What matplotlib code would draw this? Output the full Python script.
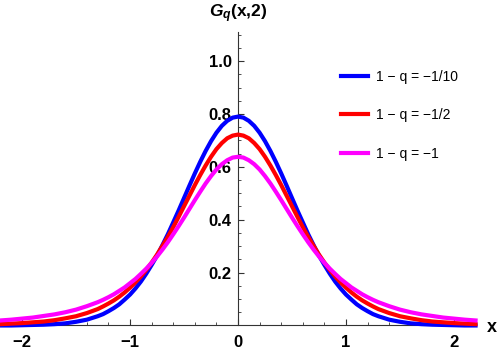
import numpy as np
import matplotlib.pyplot as plt
from matplotlib.ticker import MultipleLocator

plt.rcParams['font.family'] = 'Liberation Sans'
plt.rcParams['mathtext.fontset'] = 'custom'
plt.rcParams['mathtext.it'] = 'Liberation Sans:italic:bold'
plt.rcParams['mathtext.rm'] = 'Liberation Sans:bold'

x = [-2.2, -2.1, -2.0, -1.9, -1.8, -1.7, -1.6, -1.5, -1.4, -1.3,
     -1.25, -1.2, -1.15, -1.1, -1.05, -1.0, -0.95, -0.9, -0.85, -0.8, -0.75, -0.7, -0.65,
     -0.6, -0.55, -0.5, -0.45, -0.4, -0.35, -0.3, -0.25, -0.2, -0.15, -0.1, -0.05, 0.0,
     0.05, 0.1, 0.15, 0.2, 0.25, 0.3, 0.35, 0.4, 0.45, 0.5, 0.55, 0.6, 0.65, 0.7, 0.75,
     0.8, 0.85, 0.9, 0.95, 1.0, 1.05, 1.1, 1.15, 1.2, 1.25,
     1.3, 1.4, 1.5, 1.6, 1.7, 1.8, 1.9, 2.0, 2.1, 2.2]

g_blue = [0.000, 0.000, 0.001, 0.002, 0.003, 0.005, 0.008, 0.014, 0.022, 0.035,
          0.043, 0.054, 0.066, 0.080, 0.098, 0.117, 0.140, 0.166, 0.196, 0.229, 0.264, 0.304, 0.345,
          0.390, 0.435, 0.482, 0.529, 0.575, 0.619, 0.660, 0.697, 0.729, 0.755, 0.774, 0.786, 0.790,
          0.786, 0.774, 0.755, 0.729, 0.697, 0.660, 0.619, 0.575, 0.529, 0.482, 0.435, 0.390, 0.345,
          0.304, 0.264, 0.229, 0.196, 0.166, 0.140, 0.117, 0.098, 0.080, 0.066, 0.054, 0.043,
          0.035, 0.022, 0.014, 0.008, 0.005, 0.003, 0.002, 0.001, 0.000, 0.000]
g_red = [0.005, 0.007, 0.009, 0.012, 0.015, 0.020, 0.027, 0.035, 0.047, 0.062,
         0.072, 0.083, 0.095, 0.109, 0.125, 0.143, 0.163, 0.185, 0.210, 0.238, 0.268, 0.301, 0.335,
         0.372, 0.411, 0.451, 0.491, 0.531, 0.569, 0.605, 0.638, 0.667, 0.690, 0.708, 0.718, 0.722,
         0.718, 0.708, 0.690, 0.667, 0.638, 0.605, 0.569, 0.531, 0.491, 0.451, 0.411, 0.372, 0.335,
         0.301, 0.268, 0.238, 0.210, 0.185, 0.163, 0.143, 0.125, 0.109, 0.095, 0.083, 0.072,
         0.062, 0.047, 0.035, 0.027, 0.020, 0.015, 0.012, 0.009, 0.007, 0.005]
g_mag = [0.019, 0.022, 0.026, 0.030, 0.036, 0.042, 0.050, 0.060, 0.073, 0.088,
         0.097, 0.107, 0.118, 0.131, 0.144, 0.160, 0.176, 0.195, 0.215, 0.237, 0.261, 0.287, 0.315,
         0.345, 0.376, 0.408, 0.441, 0.474, 0.506, 0.537, 0.565, 0.590, 0.610, 0.625, 0.635, 0.638,
         0.635, 0.625, 0.610, 0.590, 0.565, 0.537, 0.506, 0.474, 0.441, 0.408, 0.376, 0.345, 0.315,
         0.287, 0.261, 0.237, 0.215, 0.195, 0.176, 0.160, 0.144, 0.131, 0.118, 0.107, 0.097,
         0.088, 0.073, 0.060, 0.050, 0.042, 0.036, 0.030, 0.026, 0.022, 0.019]

labels = ['1 \u2212 q = \u22121/10', '1 \u2212 q = \u22121/2', '1 \u2212 q = \u22121']

fig = plt.figure(figsize=(4.99, 3.51), dpi=100)
ax = fig.add_axes([0.001, 0.0727, 0.952, 0.8362])

ax.plot(x, g_blue, color='#0000ff', lw=3, label=labels[0], clip_on=False, zorder=3,
        solid_joinstyle='round')
ax.plot(x, g_red, color='#ff0000', lw=3, label=labels[1], clip_on=False, zorder=3,
        solid_joinstyle='round')
ax.plot(x, g_mag, color='#ff00ff', lw=3, label=labels[2], clip_on=False, zorder=3,
        solid_joinstyle='round')

ax.set_xlim(-2.2, 2.2)
ax.set_ylim(0, 1.11)

ax.spines['left'].set_position(('data', 0))
ax.spines['bottom'].set_position(('data', 0))
ax.spines['top'].set_visible(False)
ax.spines['right'].set_visible(False)
for s in ['left', 'bottom']:
    ax.spines[s].set_color('#333333')
    ax.spines[s].set_linewidth(0.8)

ax.xaxis.set_major_locator(MultipleLocator(1))
ax.xaxis.set_minor_locator(MultipleLocator(0.2))
ax.set_yticks([0.2, 0.4, 0.6, 0.8, 1.0])
ax.set_yticklabels(['0.2', '0.4', '0.6', '0.8', '1.0'])
ax.yaxis.set_minor_locator(MultipleLocator(0.05))
ax.tick_params(axis='both', which='major', direction='in', length=4, width=0.8,
               color='#333333', labelsize=12)
ax.tick_params(axis='both', which='minor', direction='in', length=2.5, width=0.6,
               color='#333333')
ax.tick_params(axis='x', pad=7)
ax.tick_params(axis='y', pad=4.5)
for t in ax.get_xticklabels() + ax.get_yticklabels():
    t.set_fontweight('bold')

fig.text(238 / 499, 1 - 14 / 351, r'$G_q$(x,2)', ha='center', va='center',
         fontsize=12.5, fontweight='bold')
fig.text(492 / 499, 1 - 327 / 351, 'x', ha='center', va='center',
         fontsize=13, fontweight='bold')

ax.legend(loc='upper left', bbox_to_anchor=(341 / 499, 1 - 70 / 351),
          bbox_transform=fig.transFigure, frameon=False, fontsize=10,
          handlelength=1.95, handletextpad=0.6, labelspacing=1.75,
          borderpad=0, borderaxespad=0)

fig.savefig('out.png', dpi=100)
